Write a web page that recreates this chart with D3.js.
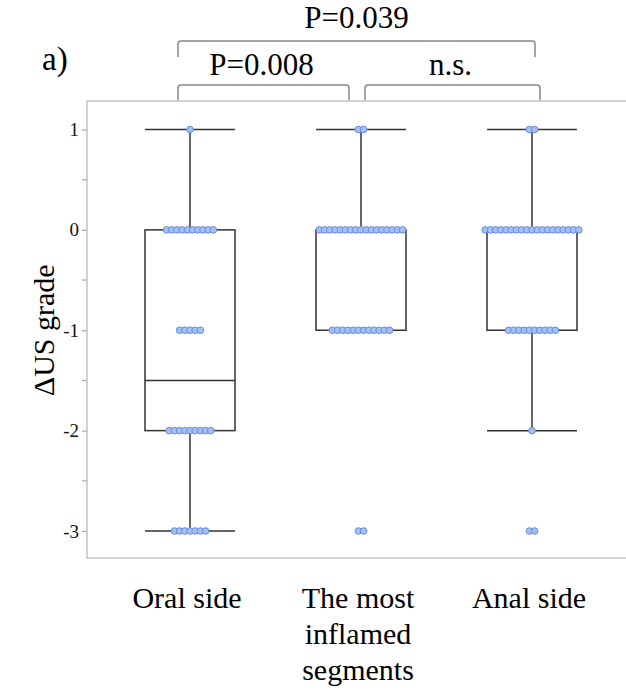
<!DOCTYPE html>
<meta charset="utf-8" />
<script src="https://d3js.org/d3.v7.min.js"></script>
<body style="margin:0;background:#fff">
<svg id="chart" width="626" height="695" style="font-family:'Liberation Serif','Times New Roman',Times,serif"></svg>
<script>
/* ── DATA (counts of patients per ΔUS grade) ── */
const groups = ["Oral side", "The most inflamed segments", "Anal side"];
const labelLines = [["Oral side"], ["The most", "inflamed", "segments"], ["Anal side"]];
const grades = [1, 0, -1, -2, -3];
const oralCounts     = [1, 10, 5, 9, 7];
const inflamedCounts = [2, 17, 12, 0, 2];
const analCounts     = [2, 19, 10, 1, 2];
const yTicks = [1, 0, -1, -2, -3];
const brackets = [
  {from: "Oral side", to: "Anal side", text: "P=0.039", level: 0, dx0: -12, dx1: 3},
  {from: "Oral side", to: "The most inflamed segments", text: "P=0.008", level: 1, dx0: -12, dx1: -12},
  {from: "The most inflamed segments", to: "Anal side", text: "n.s.", level: 1, dx0: 4, dx1: 8}
];

/* ── CONFIG ── */
const frame = {x: 87, y: 101, w: 620, h: 457};
const dotGap = 5.2, dotR = 3.3, boxW = 90;

const svg = d3.select("#chart");
const x = d3.scalePoint().domain(groups).range([190, 532]);
const y = d3.scaleLinear().domain([-3, 1]).range([531, 129.5]);

const counts = [oralCounts, inflamedCounts, analCounts];
const series = groups.map((g, gi) => {
  const vals = [];
  grades.forEach((v, k) => { for (let i = 0; i < counts[gi][k]; i++) vals.push(v); });
  vals.sort(d3.ascending);
  const q1 = d3.quantile(vals, 0.25), med = d3.quantile(vals, 0.5), q3 = d3.quantile(vals, 0.75);
  const iqr = q3 - q1;
  const lo = d3.min(vals.filter(v => v >= q1 - 1.5 * iqr));
  const hi = d3.max(vals.filter(v => v <= q3 + 1.5 * iqr));
  return {g, gi, vals, q1, med, q3, lo, hi};
});

/* frame */
svg.append("rect")
  .attr("x", frame.x).attr("y", frame.y).attr("width", frame.w).attr("height", frame.h)
  .attr("fill", "none").attr("stroke", "#c4c4c4").attr("stroke-width", 1.5);

/* y axis */
const ax = svg.append("g").attr("transform", `translate(${frame.x},0)`)
  .call(d3.axisLeft(y).tickValues(yTicks).tickSize(5).tickPadding(3).tickFormat(d => String(d)));
ax.attr("font-family", null);
ax.select(".domain").remove();
ax.selectAll("line").attr("stroke", "#b0b0b0").attr("stroke-width", 1.3);
ax.selectAll("text").attr("font-size", 19).attr("fill", "#111");
svg.append("g").selectAll("line").data(d3.range(-2.5, 1, 1)).join("line")
  .attr("x1", frame.x - 5).attr("x2", frame.x)
  .attr("y1", d => y(d)).attr("y2", d => y(d))
  .attr("stroke", "#b0b0b0").attr("stroke-width", 1.3);

svg.append("text")
  .attr("transform", `translate(54,${(y(1) + y(-3)) / 2}) rotate(-90)`)
  .attr("text-anchor", "middle").attr("font-size", 30)
  .attr("fill", "#000").text("ΔUS grade");

/* boxes */
const ink = "#333", lw = 1.5;
const bx = svg.append("g").selectAll("g").data(series).join("g");
bx.append("line")
  .attr("x1", d => x(d.g)).attr("x2", d => x(d.g))
  .attr("y1", d => y(d.hi)).attr("y2", d => y(d.q3))
  .attr("stroke", ink).attr("stroke-width", lw);
bx.append("line")
  .attr("x1", d => x(d.g)).attr("x2", d => x(d.g))
  .attr("y1", d => y(d.q1)).attr("y2", d => y(d.lo))
  .attr("stroke", ink).attr("stroke-width", lw);
bx.selectAll("line.cap").data(d => [d.hi, d.lo].filter((v, i) => i === 0 ? v > d.q3 : v < d.q1).map(v => ({d, v})))
  .join("line").attr("class", "cap")
  .attr("x1", o => x(o.d.g) - boxW / 2).attr("x2", o => x(o.d.g) + boxW / 2)
  .attr("y1", o => y(o.v)).attr("y2", o => y(o.v))
  .attr("stroke", ink).attr("stroke-width", lw);
bx.append("rect")
  .attr("x", d => x(d.g) - boxW / 2).attr("width", boxW)
  .attr("y", d => y(d.q3)).attr("height", d => y(d.q1) - y(d.q3))
  .attr("fill", "none").attr("stroke", ink).attr("stroke-width", lw);
bx.append("line")
  .attr("x1", d => x(d.g) - boxW / 2).attr("x2", d => x(d.g) + boxW / 2)
  .attr("y1", d => y(d.med)).attr("y2", d => y(d.med))
  .attr("stroke", ink).attr("stroke-width", lw);

/* dots */
const dots = [];
series.forEach(s => grades.forEach((v, k) => {
  const n = counts[s.gi][k];
  for (let i = 0; i < n; i++) dots.push({cx: x(s.g) + (i - (n - 1) / 2) * dotGap, v});
}));
svg.append("g").selectAll("circle").data(dots).join("circle")
  .attr("cx", d => d.cx).attr("cy", d => y(d.v)).attr("r", dotR)
  .attr("fill", "#a4bff2").attr("stroke", "#648ddc").attr("stroke-width", 1);

/* category labels */
svg.append("g").selectAll("text").data(groups).join("text")
  .attr("x", d => x(d) - 3).attr("y", 608)
  .attr("text-anchor", "middle").attr("font-size", 30).attr("fill", "#000")
  .each(function(d, i) {
    labelLines[i].forEach((t, j) => d3.select(this).append("tspan")
      .attr("x", x(d) - 3).attr("dy", j ? 36 : 0).text(t));
  });

/* significance brackets */
const lvl = [{top: 41, bot: 57, ty: 28}, {top: 85, bot: 100, ty: 75}];
const br = svg.append("g").selectAll("g").data(brackets).join("g");
br.append("path")
  .attr("d", b => {
    const L = lvl[b.level], x0 = x(b.from) + b.dx0, x1 = x(b.to) + b.dx1;
    return `M${x0},${L.bot}V${L.top + 3}Q${x0},${L.top} ${x0 + 3},${L.top}H${x1 - 3}Q${x1},${L.top} ${x1},${L.top + 3}V${L.bot}`;
  })
  .attr("fill", "none").attr("stroke", "#888").attr("stroke-width", 1.5);
br.append("text")
  .attr("x", b => (x(b.from) + b.dx0 + x(b.to) + b.dx1) / 2 + (b.level ? -2 : 0))
  .attr("y", b => lvl[b.level].ty)
  .attr("text-anchor", "middle").attr("font-size", 31).attr("fill", "#000")
  .text(b => b.text);

svg.append("text").attr("x", 42).attr("y", 70)
  .attr("font-size", 33).attr("fill", "#000").text("a)");
</script>
</body>
